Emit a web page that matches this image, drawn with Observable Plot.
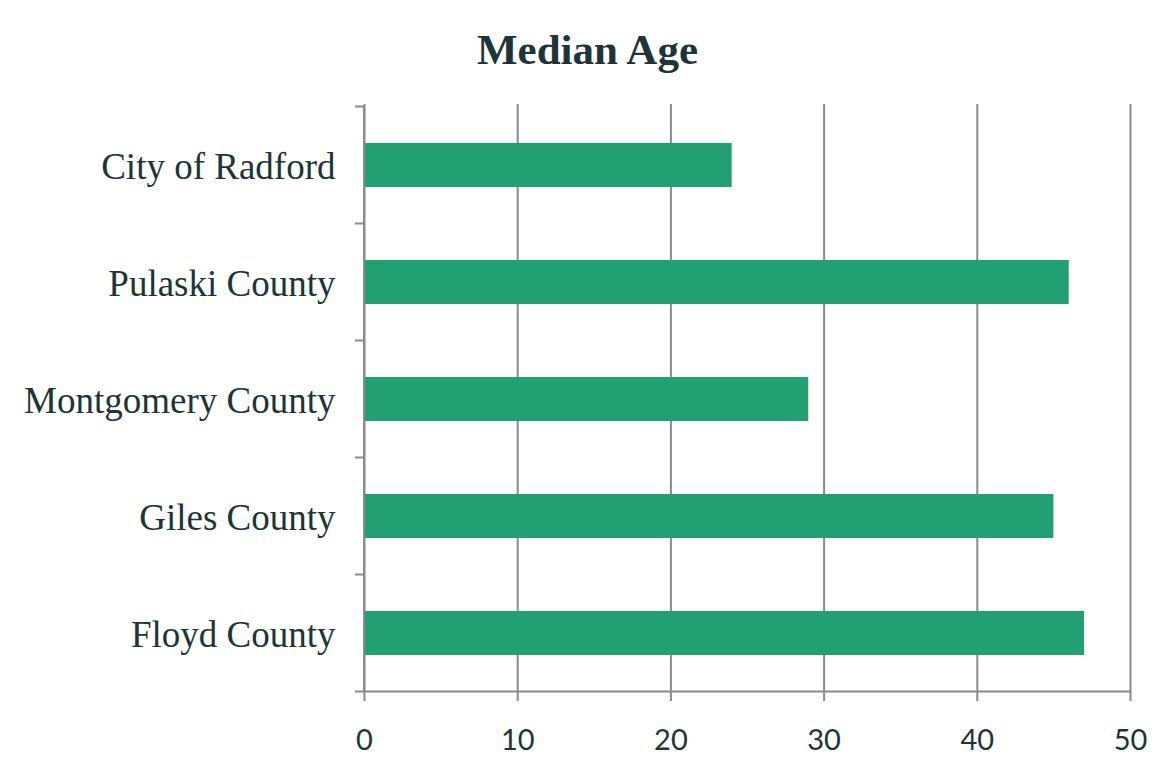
<!DOCTYPE html>
<html>
<head>
<meta charset="utf-8">
<script src="https://cdn.jsdelivr.net/npm/d3@7"></script>
<script src="https://cdn.jsdelivr.net/npm/@observablehq/plot@0.6"></script>
<style>
  html, body { margin: 0; padding: 0; background: #fff; }
  #title {
    width: 1175px; height: 68px; padding-top: 28px;
    text-align: center; font-family: "Liberation Serif", serif; font-weight: bold;
    font-size: 43px; line-height: 1; color: #1d3438;
  }
</style>
</head>
<body>
<div id="title">Median Age</div>
<div id="chart"></div>
<script>
const counties = ["City of Radford", "Pulaski County", "Montgomery County", "Giles County", "Floyd County"];
const medianAge = [24, 46, 29, 45, 47];
const xTicks = [0, 10, 20, 30, 40, 50];

const data = counties.map((c, i) => ({county: c, age: medianAge[i]}));
const gray = "#8a8a8a";
const ink = "#1d3438";

// left axis line, bottom axis line and short ticks between categories (Excel-style)
function categoryAxisLines(index, scales, values, dimensions) {
  const y = scales.y;
  const x = scales.x;
  const half = (y.step() - y.bandwidth()) / 2;
  const g = d3.create("svg:g").attr("stroke", gray).attr("stroke-width", 2);
  const x0 = x(0);
  const ys = counties.map(c => y(c) - half);
  const yBottom = y(counties[counties.length - 1]) + y.bandwidth() + half;
  for (const yy of ys) {
    g.append("line").attr("x1", x0 - 9).attr("x2", x0).attr("y1", yy).attr("y2", yy);
  }
  g.append("line").attr("x1", x0).attr("x2", x0).attr("y1", ys[0]).attr("y2", yBottom);
  g.append("line").attr("x1", x0 - 9).attr("x2", x(50)).attr("y1", yBottom).attr("y2", yBottom);
  return g.node();
}

const chart = Plot.plot({
  width: 1175,
  height: 675,
  marginTop: 8,
  marginBottom: 78,
  marginLeft: 364,
  marginRight: 45,
  style: {fontFamily: "Liberation Serif, serif", color: ink, background: "#fff"},
  x: {domain: [0, 50]},
  y: {domain: counties, paddingInner: 0.627, paddingOuter: 0.3135},
  marks: [
    Plot.gridX(xTicks, {stroke: gray, strokeWidth: 2, strokeOpacity: 1}),
    Plot.barX(data, {x: "age", y: "county", fill: "#239f74"}),
    categoryAxisLines,
    Plot.axisX({ticks: xTicks, tickSize: 8, tickPadding: 28, stroke: gray, strokeWidth: 2, strokeOpacity: 1,
      fontSize: 29, fontFamily: "Lato, sans-serif", fill: ink, label: null}),
    Plot.axisY({tickSize: 0, tickPadding: 29, fontSize: 37, fill: ink, label: null, dy: 2})
  ]
});
document.getElementById("chart").appendChild(chart);
</script>
</body>
</html>
